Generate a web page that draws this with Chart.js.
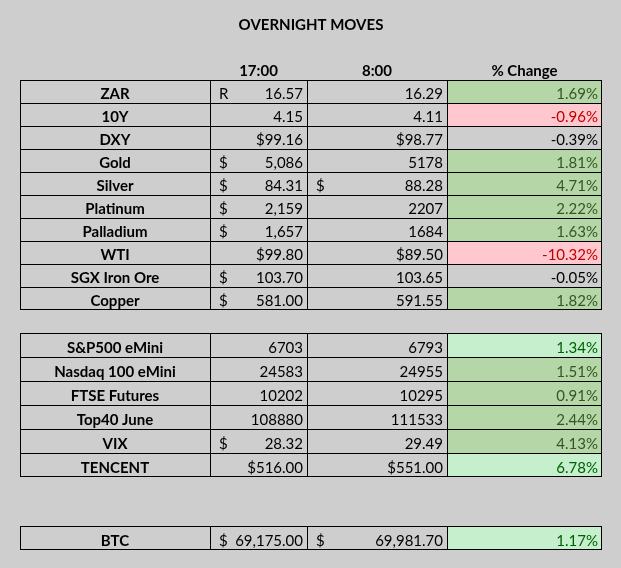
<!DOCTYPE html>
<html>
<head>
<meta charset="utf-8">
<title>Overnight Moves</title>
<script src="https://cdn.jsdelivr.net/npm/chart.js@4.4.1/dist/chart.umd.min.js"></script>
<style>
  html, body { margin: 0; padding: 0; background: #cecece; }
  #wrap { position: relative; width: 621px; height: 568px; }
</style>
</head>
<body>
<div id="wrap"><canvas id="moves"></canvas></div>
<script>
// ---- data ----
const title = 'OVERNIGHT MOVES';
const headers = ['17:00', '8:00', '% Change'];

const markets = ['ZAR', '10Y', 'DXY', 'Gold', 'Silver', 'Platinum', 'Palladium', 'WTI', 'SGX Iron Ore', 'Copper'];
const markets1700 = [16.57, 4.15, 99.16, 5086, 84.31, 2159, 1657, 99.80, 103.70, 581.00];
const markets0800 = [16.29, 4.11, 98.77, 5178, 88.28, 2207, 1684, 89.50, 103.65, 591.55];
const marketsPct = [1.69, -0.96, -0.39, 1.81, 4.71, 2.22, 1.63, -10.32, -0.05, 1.82];

const indices = ['S&P500 eMini', 'Nasdaq 100 eMini', 'FTSE Futures', 'Top40 June', 'VIX', 'TENCENT'];
const indices1700 = [6703, 24583, 10202, 108880, 28.32, 516.00];
const indices0800 = [6793, 24955, 10295, 111533, 29.49, 551.00];
const indicesPct = [1.34, 1.51, 0.91, 2.44, 4.13, 6.78];

const crypto = ['BTC'];
const crypto1700 = [69175.00];
const crypto0800 = [69981.70];
const cryptoPct = [1.17];

// ---- cell formats (g general, n2 2dp, c2 $0.00, a0/a2 accounting $, r2 accounting R) ----
const marketsFmt1700 = ['r2', 'n2', 'c2', 'a0', 'a2', 'a0', 'a0', 'c2', 'a2', 'a2'];
const marketsFmt0800 = ['n2', 'n2', 'c2', 'g', 'a2', 'g', 'g', 'c2', 'n2', 'n2'];
const indicesFmt1700 = ['g', 'g', 'g', 'g', 'a2', 'c2'];
const indicesFmt0800 = ['g', 'g', 'g', 'g', 'n2', 'c2'];
const cryptoFmt1700 = ['a2'];
const cryptoFmt0800 = ['a2'];

// conditional fill of the % column
const marketsTone = ['up', 'down', '', 'up', 'up', 'up', 'up', 'down', '', 'up'];
const indicesTone = ['pale', 'up', 'up', 'up', 'up', 'pale'];
const cryptoTone = ['pale'];

const fills = { up: '#b5d6a7', pale: '#c6efce', down: '#ffc7ce', '': 'rgba(0,0,0,0)' };
const inks = { up: '#375623', pale: '#006100', down: '#c00000', '': '#000' };

// ---- layout ----
const colEdges = [20, 210, 307, 447, 602];
const titleBase = 30, headerBase = 76;
const FONT = 'Lato';

const sections = [
  { names: markets, v1: markets1700, v2: markets0800, pct: marketsPct, f1: marketsFmt1700, f2: marketsFmt0800, tone: marketsTone, top: 80, rowH: 23 },
  { names: indices, v1: indices1700, v2: indices0800, pct: indicesPct, f1: indicesFmt1700, f2: indicesFmt0800, tone: indicesTone, top: 333, rowH: 24 },
  { names: crypto, v1: crypto1700, v2: crypto0800, pct: cryptoPct, f1: cryptoFmt1700, f2: cryptoFmt0800, tone: cryptoTone, top: 526, rowH: 24 }
];

function fmtCell(v, code) { // returns [symbol, number text]
  const dp = d => v.toLocaleString('en-US', { minimumFractionDigits: d, maximumFractionDigits: d });
  if (code == 'n2') return ['', v.toFixed(2)];
  if (code == 'c2') return ['', '$' + dp(2)];
  if (code == 'a0') return ['$', dp(0)];
  if (code == 'a2') return ['$', dp(2)];
  if (code == 'r2') return ['R', dp(2)];
  return ['', String(v)];
}

const datasets = sections.map(s => ({
  data: s.names.flatMap((n, i) => colEdges.slice(0, -1).map((x0, c) => ({
    x: [x0, colEdges[c + 1]],
    y: s.top + (i + 0.5) * s.rowH,
    col: c, row: i, last: i == s.names.length - 1
  }))),
  barThickness: s.rowH,
  grouped: false,
  backgroundColor: ctx => ctx.raw && ctx.raw.col == 3 ? fills[s.tone[ctx.raw.row]] : 'rgba(0,0,0,0)',
  borderColor: '#000',
  borderWidth: ctx => ctx.raw ? { left: 1, top: 1, right: ctx.raw.col == 3 ? 1 : 0, bottom: ctx.raw.last ? 1 : 0 } : 0,
  borderSkipped: false,
  inflateAmount: 0
}));

const tableText = { // writes the cell texts at the positions given by the scales
  id: 'tableText',
  afterDatasetsDraw(chart) {
    const { ctx, scales: { x, y } } = chart;
    const mid = c => x.getPixelForValue((colEdges[c] + colEdges[c + 1]) / 2);
    ctx.save();
    ctx.textBaseline = 'alphabetic';
    ctx.fillStyle = '#000';
    ctx.font = 'bold 15px ' + FONT;
    ctx.textAlign = 'center';
    ctx.fillText(title, x.getPixelForValue((colEdges[0] + colEdges[4]) / 2), y.getPixelForValue(titleBase));
    headers.forEach((h, k) => ctx.fillText(h, mid(k + 1), y.getPixelForValue(headerBase)));

    sections.forEach(s => {
      s.names.forEach((name, i) => {
        const base = y.getPixelForValue(s.top + (i + 1) * s.rowH - 4);
        ctx.font = 'bold 15px ' + FONT;
        ctx.textAlign = 'center';
        ctx.fillStyle = '#000';
        ctx.fillText(name, mid(0), base);

        ctx.font = '15px ' + FONT;
        [[s.v1[i], s.f1[i]], [s.v2[i], s.f2[i]]].forEach(([v, f], k) => {
          const [sym, txt] = fmtCell(v, f);
          ctx.textAlign = 'right';
          ctx.fillText(txt, x.getPixelForValue(colEdges[k + 2] - 4), base);
          if (sym) {
            ctx.textAlign = 'left';
            ctx.fillText(sym, x.getPixelForValue(colEdges[k + 1] + 9), base);
          }
        });

        ctx.textAlign = 'right';
        ctx.fillStyle = inks[s.tone[i]];
        ctx.fillText(s.pct[i].toFixed(2) + '%', x.getPixelForValue(colEdges[4] - 4), base);
      });
    });
    ctx.restore();
  }
};

function dibujar() {
  new Chart(document.getElementById('moves'), {
    type: 'bar',
    data: { datasets: datasets },
    options: {
      indexAxis: 'y',
      responsive: true,
      maintainAspectRatio: false,
      animation: false,
      events: [],
      layout: { padding: 0 },
      scales: {
        x: { type: 'linear', min: 0, max: 621, offset: false, display: false },
        y: { type: 'linear', min: 0, max: 568, reverse: true, offset: false, display: false }
      },
      plugins: { legend: { display: false }, tooltip: { enabled: false } }
    },
    plugins: [tableText]
  });
}

document.fonts.load('bold 15px ' + FONT).then(dibujar, dibujar);
</script>
</body>
</html>
